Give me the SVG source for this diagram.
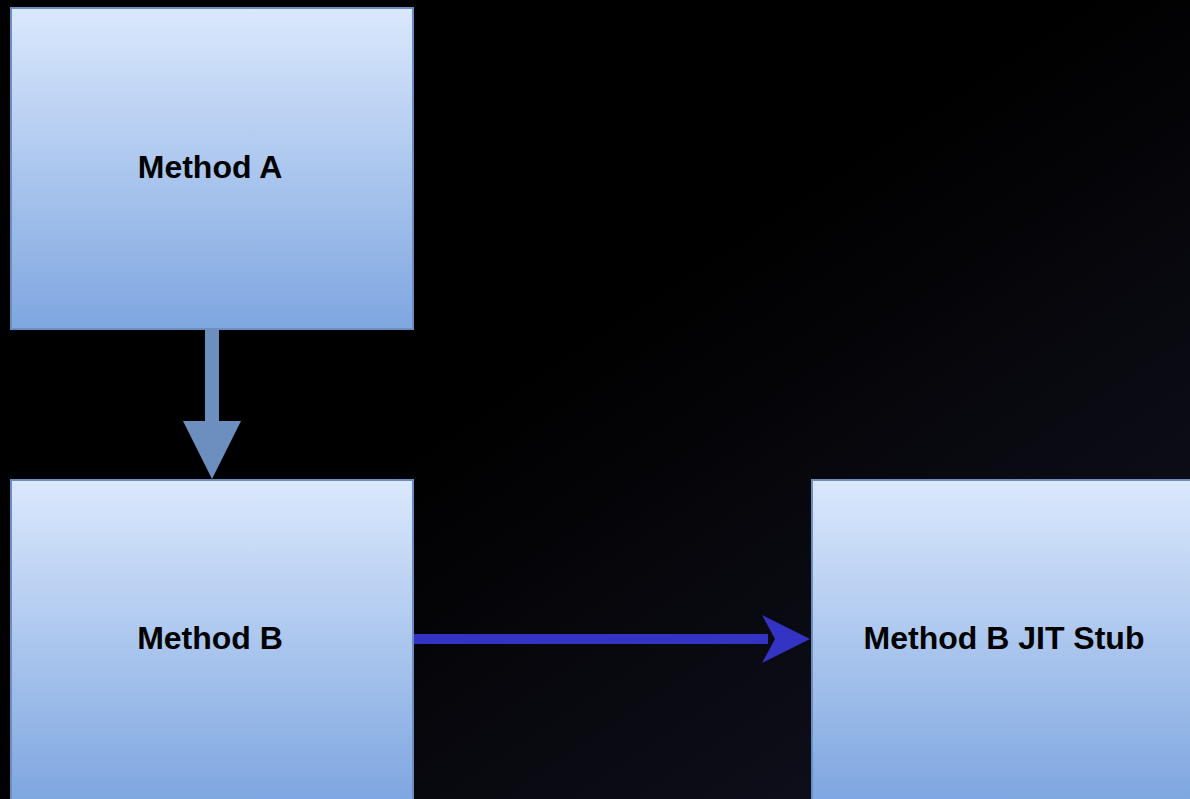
<svg xmlns="http://www.w3.org/2000/svg" width="1190" height="799" viewBox="0 0 1190 799">
<defs>
<linearGradient id="bg" x1="0" y1="0" x2="1" y2="1">
<stop offset="0.45" stop-color="#000000"/>
<stop offset="1" stop-color="#141425"/>
</linearGradient>
<linearGradient id="nodeFill" x1="0" y1="0" x2="0" y2="1">
<stop offset="0" stop-color="#dae8fc"/>
<stop offset="1" stop-color="#7ea6e0"/>
</linearGradient>
<linearGradient id="nodeFillTall" gradientUnits="userSpaceOnUse" x1="0" y1="480" x2="0" y2="801">
<stop offset="0" stop-color="#dae8fc"/>
<stop offset="1" stop-color="#7ea6e0"/>
</linearGradient>
<style>
.node{stroke:#6c8ebf;stroke-width:2}
.label{font-family:"Liberation Sans",Arial,Helvetica,sans-serif;font-weight:bold;font-size:32px;fill:#000;text-anchor:middle}
</style>
</defs>
<rect x="0" y="0" width="1190" height="799" fill="url(#bg)"/>
<g id="connectors">
<g id="edge-a-b">
<rect x="205" y="329" width="14" height="94" fill="#6d8fc0"/>
<polygon points="183,421 241,421 212,479" fill="#6d8fc0"/>
</g>
<g id="edge-b-stub">
<rect x="413" y="634" width="355" height="10" fill="#3434c4"/>
<polygon points="762,615 810,639 762,663 775,639" fill="#3434c4"/>
</g>
</g>
<g id="node-a">
<rect class="node" x="11" y="8" width="402" height="321" fill="url(#nodeFill)"/>
<text class="label" x="210" y="178">Method A</text>
</g>
<g id="node-b">
<rect class="node" x="11" y="480" width="402" height="330" fill="url(#nodeFillTall)"/>
<text class="label" x="210" y="649">Method B</text>
</g>
<g id="node-stub">
<rect class="node" x="812" y="480" width="400" height="330" fill="url(#nodeFillTall)"/>
<text class="label" x="1004" y="649">Method B JIT Stub</text>
</g>
</svg>
